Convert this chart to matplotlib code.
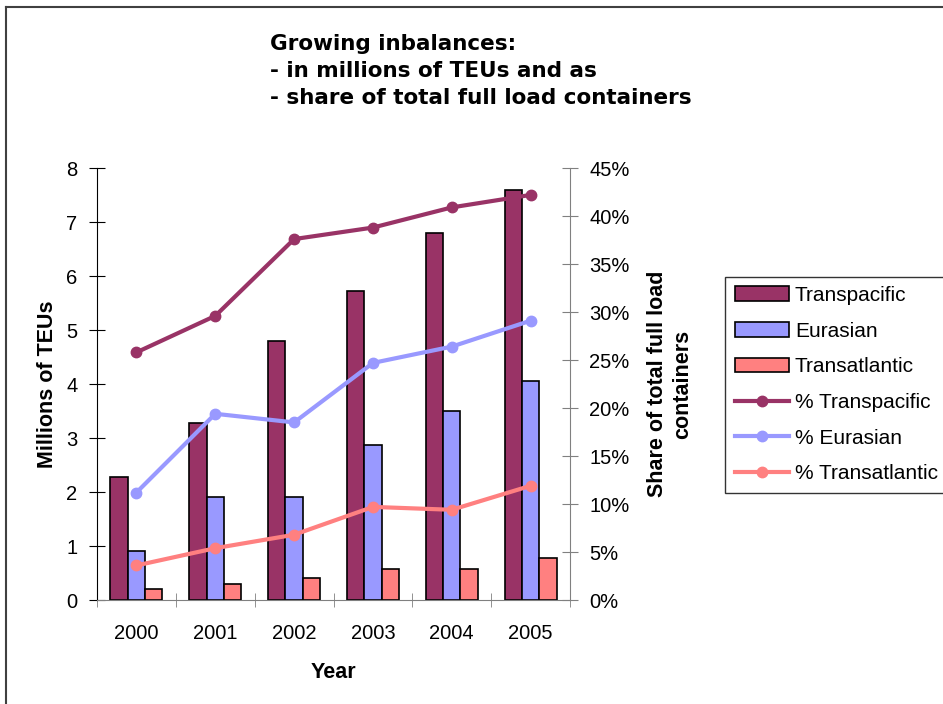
import numpy as np
import matplotlib
matplotlib.use("Agg")
import matplotlib.pyplot as plt
from matplotlib.lines import Line2D

plt.rcParams['font.family'] = ['Liberation Sans', 'DejaVu Sans']

# data
years = ['2000', '2001', '2002', '2003', '2004', '2005']
transpacific = [2.28, 3.28, 4.8, 5.72, 6.8, 7.6]
eurasian = [0.9, 1.9, 1.9, 2.88, 3.5, 4.05]
transatlantic = [0.2, 0.3, 0.4, 0.58, 0.58, 0.78]
pct_transpacific = [25.8, 29.6, 37.6, 38.8, 40.9, 42.2]
pct_eurasian = [11.2, 19.4, 18.5, 24.7, 26.4, 29.1]
pct_transatlantic = [3.6, 5.4, 6.8, 9.7, 9.4, 11.9]

c_tp = '#993366'
c_eu = '#9999FF'
c_ta = '#FF8080'

fig = plt.figure(figsize=(9.43, 7.04), dpi=100)
ax = fig.add_axes([0.1029, 0.1477, 0.5016, 0.6136])
ax2 = ax.twinx()

x = np.arange(len(years))
w = 0.22
ax.bar(x - w, transpacific, w, color=c_tp, edgecolor='black', linewidth=1.2, label='Transpacific')
ax.bar(x, eurasian, w, color=c_eu, edgecolor='black', linewidth=1.2, label='Eurasian')
ax.bar(x + w, transatlantic, w, color=c_ta, edgecolor='black', linewidth=1.2, label='Transatlantic')

ax.set_xlim(-0.5, len(years) - 0.5)
ax.set_ylim(0, 8)
ax.set_yticks(range(0, 9))
ax.set_xticks(x)
ax.set_xticklabels(years)
ax.set_xticks(np.arange(-0.5, len(years)), minor=True)
ax.tick_params(axis='x', which='major', length=0, labelsize=14.5, pad=17)
ax.tick_params(axis='x', which='minor', length=10, direction='inout', color='#808080')
ax.tick_params(axis='y', length=12, direction='inout', labelsize=14.5, pad=8)

ax2.plot(x, pct_transpacific, color=c_tp, lw=3, marker='o', ms=7.5, label='% Transpacific')
ax2.plot(x, pct_eurasian, color=c_eu, lw=3, marker='o', ms=7.5, label='% Eurasian')
ax2.plot(x, pct_transatlantic, color=c_ta, lw=3, marker='o', ms=7.5, label='% Transatlantic')
ax2.set_ylim(0, 45)
ax2.set_yticks(range(0, 46, 5))
ax2.set_yticklabels(['%d%%' % v for v in range(0, 46, 5)])
ax2.tick_params(axis='y', length=12, direction='inout', labelsize=14.5, pad=8, color='#808080')

for a in (ax, ax2):
    a.spines['top'].set_visible(False)
ax.spines['right'].set_visible(False)
ax2.spines['left'].set_visible(False)
ax2.spines['bottom'].set_visible(False)
ax2.spines['right'].set_color('#808080')
ax.spines['bottom'].set_color('#808080')
ax.spines['left'].set_color('black')

ax.set_ylabel('Millions of TEUs', fontsize=15.5, fontweight='bold', labelpad=6)
ax.set_xlabel('Year', fontsize=15.5, fontweight='bold', labelpad=14)
ax2.set_ylabel('Share of total full load\ncontainers', fontsize=15.5, fontweight='bold',
               labelpad=12, linespacing=1.3)

fig.text(0.286, 0.952, 'Growing inbalances:\n- in millions of TEUs and as\n- share of total full load containers',
         fontsize=15.5, fontweight='bold', va='top', ha='left', linespacing=1.45,
         family=['DejaVu Sans'])

h1, l1 = ax.get_legend_handles_labels()
h2, l2 = ax2.get_legend_handles_labels()
leg = fig.legend(h1 + h2, l1 + l2, loc='upper left', bbox_to_anchor=(0.769, 0.607),
                 fontsize=15, frameon=True, fancybox=False, edgecolor='black',
                 handlelength=2.6, labelspacing=0.8, borderpad=0.45, handletextpad=0.3,
                 borderaxespad=0)
leg.get_frame().set_linewidth(1.0)

# outer border of the chart area
fig.add_artist(Line2D([0.0064, 0.0064], [0, 0.99], color='#404040', lw=1.5, transform=fig.transFigure))
fig.add_artist(Line2D([0.0064, 1.0], [0.99, 0.99], color='#404040', lw=1.5, transform=fig.transFigure))

fig.savefig('out.png', dpi=100)
